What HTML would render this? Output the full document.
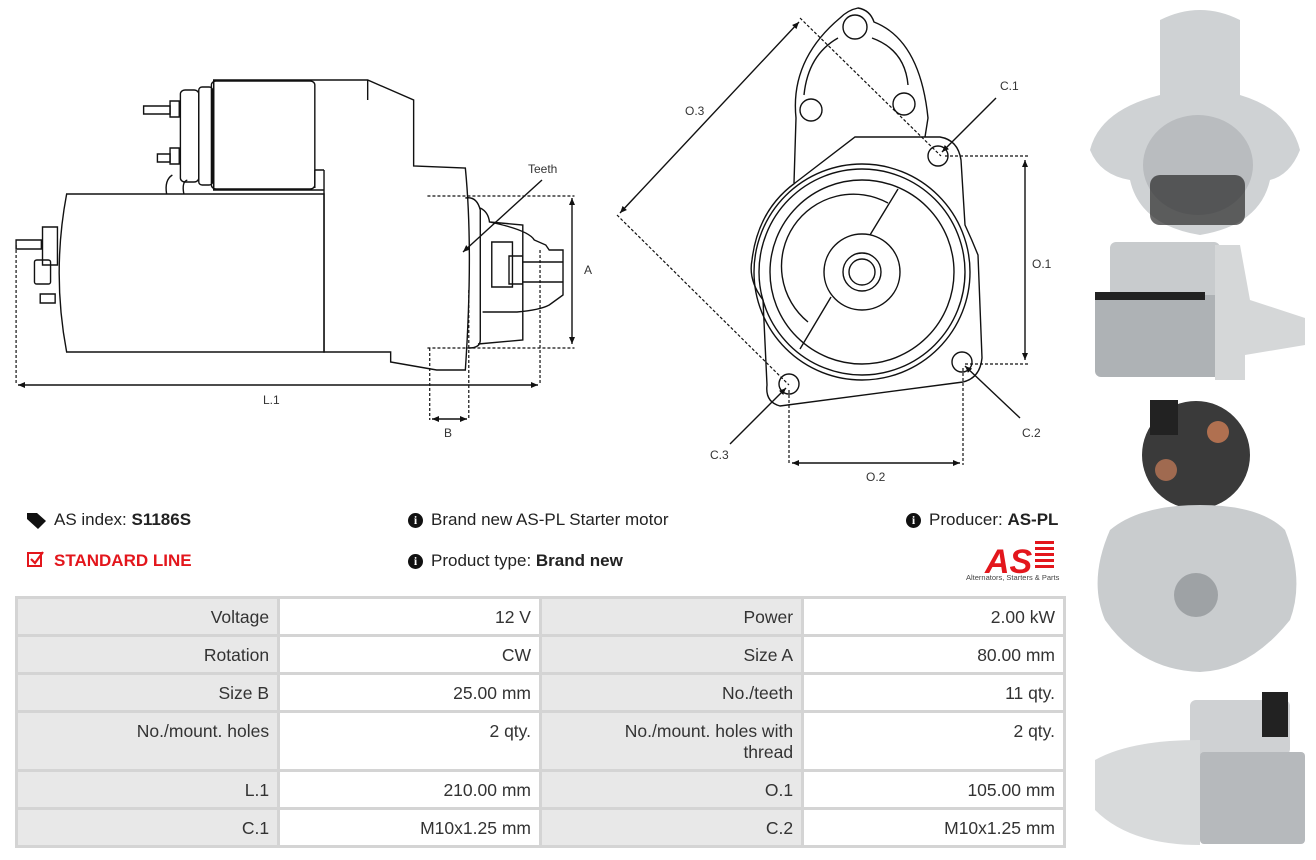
<!DOCTYPE html>
<html><head><meta charset="utf-8"><style>
body{margin:0;width:1316px;height:860px;background:#fff;position:relative;overflow:hidden;font-family:"Liberation Sans",sans-serif;color:#222}
.t{position:absolute;font-size:17px;white-space:nowrap}
b{font-weight:bold}
table{position:absolute;left:15px;top:596px;border-collapse:collapse;width:1051px;font-size:17.5px}
td{border:3px solid #d4d4d4;text-align:right;padding:8px 8px 0 8px;vertical-align:top;width:246px;color:#333}
td.l{background:#e8e8e8}
.i{display:inline-block;width:15px;height:15px;border-radius:50%;background:#111;color:#fff;font-size:12px;line-height:15px;text-align:center;font-weight:bold;font-family:"Liberation Serif",serif;vertical-align:1px;margin-right:8px}
.ns *{vector-effect:non-scaling-stroke}
</style></head><body>
<svg width="1316" height="860" style="position:absolute;left:0;top:0" fill="none" stroke="#111" stroke-width="1.4">
<defs><marker id="a" markerWidth="8" markerHeight="8" refX="7" refY="4" orient="auto-start-reverse" markerUnits="userSpaceOnUse"><path d="M0,1 L7,4 L0,7z" fill="#111" stroke="none"/></marker></defs>
<!-- side view -->
<g class="ns" transform="scale(1.149,1)">
<path d="M58,194 L282,194 L282,352 L58,352 Q45,273 58,194Z"/>
<path d="M282,170 L282,352 L340,352 L340,362 L380,370 L405,370 Q412,250 405,168 L360,166 L360,100 L320,80 L186,80 L186,190 L282,190"/>
<path d="M320,80 L320,100 M186,80 L186,190 M274,170 L282,170 M274,170 L274,188"/>
<rect x="184" y="81" width="90" height="108" rx="4"/>
<rect x="173" y="87" width="12" height="98" rx="3"/><rect x="157" y="90" width="16" height="92" rx="4"/>
<rect x="148" y="101" width="8" height="16"/><rect x="125" y="106" width="23" height="8"/>
<rect x="148" y="148" width="8" height="16"/><rect x="137" y="154" width="11" height="8"/>
<path d="M145,194 Q143,180 150,175 M160,194 Q158,182 163,180"/>
<rect x="37" y="227" width="13" height="38"/><rect x="30" y="260" width="14" height="24" rx="2"/>
<rect x="14" y="240" width="22" height="9"/><rect x="35" y="294" width="13" height="9"/>
<path d="M405,198 Q415,196 418,210 L418,340 Q418,348 408,348"/>
<path d="M418,208 Q425,212 426,222 L455,225 L455,340 L416,344 M426,222 Q460,230 465,240 L475,245 L478,250 L490,250 L490,295 L478,305 Q470,310 450,312 L420,312"/>
<rect x="428" y="242" width="18" height="45"/><rect x="443" y="256" width="12" height="28"/><path d="M455,262 L490,262 M455,282 L490,282"/>
<g stroke-dasharray="3,2" stroke-width="1.2">
<path d="M372,196 L500,196 M372,348 L500,348 M14,245 L14,385 M470,250 L470,385 M374,348 L374,420 M408,290 L408,420"/>
</g>
</g>
<path d="M18,385 L538,385" marker-start="url(#a)" marker-end="url(#a)"/>
<path d="M572,198 L572,344" marker-start="url(#a)" marker-end="url(#a)"/>
<path d="M432,419 L467,419" marker-start="url(#a)" marker-end="url(#a)"/>
<path d="M542,180 L463,252" marker-end="url(#a)"/>
<!-- front view -->
<path d="M794,183 L796,118 Q790,60 840,18 Q848,10 858,8 Q870,10 874,22 Q920,40 928,118 L925,137"/>
<path d="M804,95 Q808,55 838,38 M908,85 Q905,50 872,38"/>
<circle cx="855" cy="27" r="12"/><circle cx="811" cy="110" r="11"/><circle cx="904" cy="104" r="11"/>
<path d="M855,137 L940,137 Q958,140 961,160 L965,225 Q972,240 978,255 L982,358 Q980,378 963,382 L780,406 Q765,402 767,385 L763,300 Q748,280 752,260 Q758,210 795,183 Z"/>
<circle cx="862" cy="272" r="108"/><circle cx="862" cy="272" r="103"/><circle cx="862" cy="272" r="92"/>
<path d="M888,203 A72,72 0 0 0 808,322"/>
<path d="M898,189 L870,235 M831,297 L800,349"/>
<circle cx="862" cy="272" r="38"/><circle cx="862" cy="272" r="19"/><circle cx="862" cy="272" r="13"/>
<circle cx="938" cy="156" r="10"/><circle cx="962" cy="362" r="10"/><circle cx="789" cy="384" r="10"/>
<g stroke-dasharray="3,2" stroke-width="1.2">
<path d="M800,18 L941,156 M617,215 L789,385 M945,156 L1030,156 M965,364 L1030,364 M789,390 L789,465 M963,368 L963,465"/>
</g>
<path d="M799,22 L620,213" marker-start="url(#a)" marker-end="url(#a)"/>
<path d="M1025,160 L1025,360" marker-start="url(#a)" marker-end="url(#a)"/>
<path d="M792,463 L960,463" marker-start="url(#a)" marker-end="url(#a)"/>
<path d="M996,98 L942,152" marker-end="url(#a)"/>
<path d="M1020,418 L965,366" marker-end="url(#a)"/>
<path d="M730,444 L786,388" marker-end="url(#a)"/>
<g fill="#333" stroke="none" font-size="12" font-family="Liberation Sans">
<text x="528" y="173">Teeth</text><text x="584" y="274">A</text><text x="263" y="404">L.1</text><text x="444" y="437">B</text>
<text x="685" y="115">O.3</text><text x="1000" y="90">C.1</text><text x="1032" y="268">O.1</text><text x="1022" y="437">C.2</text><text x="710" y="459">C.3</text><text x="866" y="481">O.2</text>
</g>
<!-- photos approx -->
<g stroke="none">
<path d="M1160,20 Q1200,0 1240,20 L1240,95 Q1290,110 1300,150 Q1290,175 1270,180 Q1260,225 1200,235 Q1140,225 1130,180 Q1100,175 1090,150 Q1100,110 1160,95Z" fill="#cfd2d4"/>
<ellipse cx="1198" cy="165" rx="55" ry="50" fill="#b9bcbf"/><rect x="1150" y="175" width="95" height="50" rx="10" fill="#2a2a2a" opacity=".7"/>
<rect x="1110" y="242" width="110" height="55" rx="6" fill="#c8cbcd"/><rect x="1095" y="295" width="150" height="82" rx="6" fill="#aeb2b5"/><path d="M1215,245 L1240,245 L1250,300 L1305,318 L1305,345 L1245,355 L1245,380 L1215,380Z" fill="#d5d7d8"/><rect x="1095" y="292" width="110" height="8" fill="#222"/>
<circle cx="1196" cy="455" r="54" fill="#3a3a3a"/><rect x="1150" y="400" width="28" height="35" fill="#222"/><circle cx="1218" cy="432" r="11" fill="#b07050"/><circle cx="1166" cy="470" r="11" fill="#a06a50"/>
<path d="M1110,530 Q1140,505 1200,505 Q1260,505 1285,530 Q1305,580 1290,620 Q1250,670 1200,672 Q1140,670 1105,620 Q1088,580 1110,530Z" fill="#c9ccce"/><circle cx="1196" cy="595" r="22" fill="#9ea2a5"/>
<rect x="1190" y="700" width="100" height="55" rx="6" fill="#cfd1d3"/><rect x="1200" y="752" width="105" height="92" rx="4" fill="#b6b9bc"/><path d="M1095,760 Q1130,740 1200,740 L1200,845 Q1130,845 1095,810Z" fill="#d8dadb"/><rect x="1262" y="692" width="26" height="45" fill="#222"/>
</g>
<!-- AS logo -->
<g stroke="none" fill="#e3161c"><text x="985" y="573" font-size="34" font-weight="bold" font-style="italic" font-family="Liberation Sans">AS</text>
<rect x="1035" y="541" width="19" height="3"/><rect x="1035" y="547" width="19" height="3"/><rect x="1035" y="553" width="19" height="3"/><rect x="1035" y="559" width="19" height="3"/><rect x="1035" y="565" width="19" height="3"/></g>
<text x="966" y="580" font-size="7.5" fill="#444" stroke="none" font-family="Liberation Sans">Alternators, Starters &amp; Parts</text>
<path d="M27,513 L37,513 L46,521 L38,529 L27,519Z" fill="#111" stroke="none"/>
<rect x="28" y="553" width="13" height="13" stroke="#e3161c" stroke-width="2"/><path d="M31,559 L35,563 L43,552" stroke="#e3161c" stroke-width="2.2"/>
</svg>
<div class="t" style="left:54px;top:510px">AS index: <b>S1186S</b></div>
<div class="t" style="left:54px;top:551px;color:#e3161c;font-weight:bold">STANDARD LINE</div>
<div class="t" style="left:408px;top:510px"><span class="i">i</span>Brand new AS-PL Starter motor</div>
<div class="t" style="left:408px;top:551px"><span class="i">i</span>Product type: <b>Brand new</b></div>
<div class="t" style="left:906px;top:510px"><span class="i">i</span>Producer: <b>AS-PL</b></div>
<table>
<tr style="height:38px"><td class="l">Voltage</td><td>12 V</td><td class="l">Power</td><td>2.00 kW</td></tr>
<tr style="height:38px"><td class="l">Rotation</td><td>CW</td><td class="l">Size A</td><td>80.00 mm</td></tr>
<tr style="height:38px"><td class="l">Size B</td><td>25.00 mm</td><td class="l">No./teeth</td><td>11 qty.</td></tr>
<tr style="height:59px"><td class="l">No./mount. holes</td><td>2 qty.</td><td class="l">No./mount. holes with<br>thread</td><td>2 qty.</td></tr>
<tr style="height:38px"><td class="l">L.1</td><td>210.00 mm</td><td class="l">O.1</td><td>105.00 mm</td></tr>
<tr style="height:38px"><td class="l">C.1</td><td>M10x1.25 mm</td><td class="l">C.2</td><td>M10x1.25 mm</td></tr>
</table>
</body></html>
